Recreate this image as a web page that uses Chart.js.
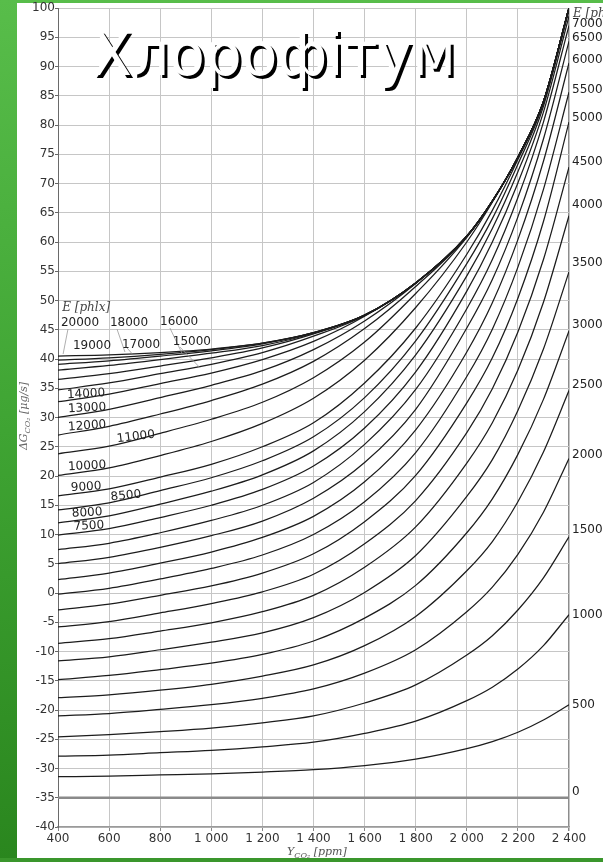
<!DOCTYPE html>
<html>
<head>
<meta charset="utf-8">
<script src="https://cdn.jsdelivr.net/npm/chart.js@4.4.1/dist/chart.umd.min.js"></script>
<style>
  html, body { margin: 0; padding: 0; overflow: hidden; background: #fff; }
  #wrap { position: relative; width: 603px; height: 862px; }
</style>
</head>
<body>
<div id="wrap"><canvas id="c" width="603" height="862"></canvas></div>
<script>
// CO2 concentration (ppm) where the curves were read
const co2 = [400, 600, 800, 1000, 1200, 1400, 1600, 1800, 2000, 2100, 2200, 2300, 2400];

// light levels E [phlx], one curve each
const eLevels = [0, 500, 1000, 1500, 2000, 2500, 3000, 3500, 4000, 4500, 5000, 5500, 6000, 6500,
  7000, 7500, 8000, 8500, 9000, 10000, 11000, 12000, 13000, 14000, 15000, 16000, 17000, 18000, 19000, 20000];

// ΔG CO2 [µg/s]
const g0     = [-35, -35, -35, -35, -35, -35, -35, -35, -35, -35, -35, -35, -35];
const g500   = [-31.4, -31.3, -31.1, -30.9, -30.6, -30.2, -29.5, -28.4, -26.6, -25.4, -23.8, -21.7, -19.1];
const g1000  = [-27.9, -27.7, -27.3, -26.9, -26.3, -25.5, -24.0, -21.9, -18.4, -16.1, -13.0, -9.0, -3.7];
const g1500  = [-24.6, -24.2, -23.7, -23.1, -22.2, -21.0, -18.8, -15.7, -10.6, -7.3, -2.9, 2.6, 9.6];
const g2000  = [-21.0, -20.6, -19.9, -19.1, -18.0, -16.4, -13.7, -9.7, -3.2, 1.0, 6.6, 13.8, 23.0];
const g2500  = [-17.9, -17.4, -16.6, -15.6, -14.2, -12.3, -9.0, -4.0, 3.8, 8.8, 15.6, 24.1, 34.6];
const g3000  = [-14.8, -14.1, -13.1, -12.0, -10.5, -8.2, -4.3, 1.3, 10.3, 16.1, 23.7, 33.1, 44.8];
const g3500  = [-11.6, -10.9, -9.7, -8.4, -6.8, -4.2, 0.1, 6.4, 16.5, 22.8, 31.2, 41.7, 54.9];
const g4000  = [-8.6, -7.8, -6.5, -5.1, -3.2, -0.4, 4.4, 11.3, 22.2, 29.1, 38.1, 49.7, 64.5];
const g4500  = [-5.8, -4.9, -3.4, -1.8, 0.2, 3.2, 8.4, 15.8, 27.4, 34.9, 44.6, 57.0, 72.8];
const g5000  = [-2.9, -1.9, -0.4, 1.2, 3.4, 6.7, 12.2, 20.1, 32.5, 40.2, 50.4, 63.5, 80.5];
const g5500  = [-0.2, 0.8, 2.4, 4.2, 6.5, 10.0, 15.6, 24.0, 37.0, 45.1, 55.7, 69.0, 85.6];
const g6000  = [2.3, 3.4, 5.1, 7.0, 9.5, 13.1, 19.0, 27.9, 41.2, 49.6, 60.4, 73.8, 90.6];
const g6500  = [5.0, 6.1, 7.8, 9.8, 12.3, 16.2, 22.3, 31.4, 45.3, 53.6, 64.3, 77.6, 94.3];
const g7000  = [7.4, 8.5, 10.3, 12.4, 15.0, 18.9, 25.4, 34.8, 48.6, 57.0, 67.6, 80.5, 97.0];
const g7500  = [9.9, 11.0, 12.9, 15.0, 17.7, 21.7, 28.2, 37.8, 51.6, 60.0, 70.1, 82.2, 98.6];
const g8000  = [12.0, 13.2, 15.2, 17.4, 20.2, 24.3, 31.0, 40.7, 54.2, 62.3, 72.0, 83.2, 99.6];
const g8500  = [14.2, 15.4, 17.5, 19.7, 22.6, 26.7, 33.4, 43.1, 56.3, 64.0, 73.3, 83.7, 100];
const g9000  = [16.6, 17.8, 19.8, 22.0, 25.0, 29.1, 35.9, 45.3, 57.9, 65.4, 74.1, 83.9, 100];
const g10000 = [20.1, 21.4, 23.5, 25.9, 29.0, 33.3, 39.8, 48.8, 60.0, 66.8, 74.5, 84.0, 100];
const g11000 = [23.8, 25.1, 27.3, 29.7, 32.6, 36.8, 42.9, 51.2, 60.8, 67.0, 74.5, 84.0, 100];
const g12000 = [27.0, 28.5, 30.6, 32.9, 35.7, 39.6, 45.2, 52.4, 60.9, 67.0, 74.5, 84.0, 100];
const g13000 = [30.0, 31.4, 33.4, 35.5, 38.0, 41.6, 46.5, 52.9, 61.0, 67.0, 74.5, 84.0, 100];
const g14000 = [32.7, 34.0, 35.8, 37.6, 39.9, 43.0, 47.3, 53.0, 61.0, 67.0, 74.5, 84.0, 100];
const g15000 = [34.7, 35.9, 37.5, 39.1, 41.1, 43.9, 47.4, 53.0, 61.0, 67.0, 74.5, 84.0, 100];
const g16000 = [36.5, 37.5, 38.8, 40.2, 41.9, 44.3, 47.5, 53.0, 61.0, 67.0, 74.5, 84.0, 100];
const g17000 = [38.1, 38.9, 39.9, 41.0, 42.3, 44.4, 47.5, 53.0, 61.0, 67.0, 74.5, 84.0, 100];
const g18000 = [39.1, 39.7, 40.5, 41.4, 42.6, 44.5, 47.5, 53.0, 61.0, 67.0, 74.5, 84.0, 100];
const g19000 = [39.8, 40.2, 40.8, 41.6, 42.7, 44.5, 47.5, 53.0, 61.0, 67.0, 74.5, 84.0, 100];
const g20000 = [40.5, 40.7, 41.1, 41.7, 42.7, 44.5, 47.5, 53.0, 61.0, 67.0, 74.5, 84.0, 100];

const curves = [g0, g500, g1000, g1500, g2000, g2500, g3000, g3500, g4000, g4500, g5000, g5500, g6000,
  g6500, g7000, g7500, g8000, g8500, g9000, g10000, g11000, g12000, g13000, g14000, g15000, g16000,
  g17000, g18000, g19000, g20000];

// axis ticks
const xTicks = [400, 600, 800, 1000, 1200, 1400, 1600, 1800, 2000, 2200, 2400];
const xTickLabels = ['400', '600', '800', '1 000', '1 200', '1 400', '1 600', '1 800', '2 000', '2 200', '2 400'];

// curve labels at the right edge (text, y)
const rightLabels = ['7000', '6500', '6000', '5500', '5000', '4500', '4000', '3500', '3000', '2500', '2000', '1500', '1000', '500', '0'];
const rightLabelY = [97.3, 94.9, 91.1, 86.0, 81.2, 73.7, 66.3, 56.4, 45.8, 35.6, 23.6, 10.8, -3.8, -19.1, -34.0];

// curve labels on the left (text, x, y, angle)
const leftLabels = ['20000', '18000', '16000', '19000', '17000', '15000', '14000', '13000', '12000', '11000', '10000', '9000', '8500', '8000', '7500'];
const leftLabelX = [486, 678, 874, 533, 725, 924, 510, 514, 514, 705, 514, 510, 666, 514, 521];
const leftLabelY = [46.15, 46.15, 46.3, 42.2, 42.4, 42.9, 34.0, 31.6, 28.55, 26.7, 21.7, 18.1, 16.6, 13.7, 11.45];
const leftLabelRot = [0, 0, 0, 0, 0, 0, -3, -3, -4, -7, -3, -3, -6, -3, -3];

// thin leader lines from the top labels down to their curves
const leaders = [
  [439, 45.1, 420, 40.85],
  [631, 45.1, 662, 41.2],
  [838, 45.3, 885, 41.0],
  [670, 41.9, 690, 40.9],
  [877, 42.05, 956, 38.5]
];

const TITLE = 'Хлорофітум';

function drawRuns(c, parts, x, y) {
  for (const p of parts) {
    c.font = p[1];
    c.fillText(p[0], x, y + p[2]);
    x += c.measureText(p[0]).width;
  }
  return x;
}
function runsWidth(c, parts) {
  let w = 0;
  for (const p of parts) { c.font = p[1]; w += c.measureText(p[0]).width; }
  return w;
}

const bgPlugin = {
  id: 'bg',
  beforeDraw(chart) {
    const c = chart.ctx, W = chart.width, H = chart.height;
    c.save();
    const g = c.createLinearGradient(0, 0, 0, H);
    g.addColorStop(0, '#58bd4a');
    g.addColorStop(0.5, '#3fa433');
    g.addColorStop(1, '#2a861e');
    c.fillStyle = g;
    c.fillRect(0, 0, W, H);
    c.fillStyle = '#ffffff';
    c.fillRect(17, 3, W - 17, 855);
    c.restore();
  }
};

const textPlugin = {
  id: 'texts',
  afterDraw(chart) {
    const c = chart.ctx, xs = chart.scales.x, ys = chart.scales.y, a = chart.chartArea;
    c.save();

    // leader lines
    c.strokeStyle = '#9a9a9a';
    c.lineWidth = 0.8;
    for (const l of leaders) {
      c.beginPath();
      c.moveTo(xs.getPixelForValue(l[0]), ys.getPixelForValue(l[1]));
      c.lineTo(xs.getPixelForValue(l[2]), ys.getPixelForValue(l[3]));
      c.stroke();
    }

    // left curve labels
    c.fillStyle = '#222';
    c.textAlign = 'center';
    c.textBaseline = 'middle';
    c.font = '12px "DejaVu Sans"';
    leftLabels.forEach((t, i) => {
      c.save();
      c.translate(xs.getPixelForValue(leftLabelX[i]), ys.getPixelForValue(leftLabelY[i]));
      c.rotate(leftLabelRot[i] * Math.PI / 180);
      c.fillText(t, 0, 0);
      c.restore();
    });

    // left header
    c.font = 'italic 12px "DejaVu Serif"';
    c.fillStyle = '#444';
    c.fillText('E [phlx]', xs.getPixelForValue(510), ys.getPixelForValue(48.7));

    // right labels
    c.textAlign = 'left';
    c.font = '12px "DejaVu Sans"';
    c.fillStyle = '#222';
    rightLabels.forEach((t, i) => c.fillText(t, a.right + 3, ys.getPixelForValue(rightLabelY[i])));
    c.font = 'italic 12px "DejaVu Serif"';
    c.fillStyle = '#444';
    c.fillText('E [phlx]', a.right + 4, ys.getPixelForValue(99.0));

    // y axis title
    c.fillStyle = '#666';
    c.textBaseline = 'alphabetic';
    const yParts = [['ΔG', 'italic 11px "DejaVu Serif"', 0], ['CO₂', 'italic 8px "DejaVu Serif"', 3], [' [μg/s]', 'italic 11px "DejaVu Serif"', 0]];
    c.save();
    c.translate(27, 416);
    c.rotate(-Math.PI / 2);
    drawRuns(c, yParts, -runsWidth(c, yParts) / 2, 0);
    c.restore();

    // x axis title
    c.fillStyle = '#555';
    drawRuns(c, [['Y', 'italic 11px "DejaVu Serif"', 0], ['CO₂', 'italic 8px "DejaVu Serif"', 3], [' [ppm]', 'italic 11px "DejaVu Serif"', 0]], 287, 855);

    // bottom green bar
    c.fillStyle = '#3a962c';
    c.fillRect(0, 858, chart.width, 4);

    // big title with shadow
    c.font = '60px "DejaVu Sans"';
    const w = c.measureText(TITLE).width;
    const sx = 364 / w;
    c.save();
    c.translate(92, 75);
    c.scale(sx, 1);
    c.fillStyle = '#000';
    c.fillText(TITLE, 3 / sx, 3);
    c.fillStyle = '#fff';
    c.fillText(TITLE, 0, 0);
    c.restore();

    c.restore();
  }
};

const datasets = curves.map((vals, i) => ({
  label: 'E ' + eLevels[i],
  data: vals.map((v, j) => ({ x: co2[j], y: v })),
  borderColor: eLevels[i] === 0 ? '#8a8a8a' : '#1c1c1c',
  borderWidth: eLevels[i] === 0 ? 2.6 : 1.25,
  pointRadius: 0,
  fill: false,
  cubicInterpolationMode: 'monotone',
  clip: 0
}));

new Chart(document.getElementById('c'), {
  type: 'line',
  data: { datasets: datasets },
  options: {
    responsive: false,
    animation: false,
    devicePixelRatio: 1,
    layout: { padding: { top: 8, right: 34, left: 0, bottom: 0 } },
    plugins: { legend: { display: false }, tooltip: { enabled: false } },
    scales: {
      x: {
        type: 'linear',
        min: 400,
        max: 2400,
        afterFit: (s) => { s.height = 35; },
        ticks: {
          stepSize: 200,
          autoSkip: false,
          maxRotation: 0,
          padding: 1,
          color: '#333',
          font: { family: 'DejaVu Sans', size: 12 },
          callback: (v) => { const i = xTicks.indexOf(v); return i < 0 ? '' : xTickLabels[i]; }
        },
        grid: {
          color: (ctx) => (ctx.tick && ctx.tick.value === 2400 ? '#8c8c8c' : '#c6c6c6'),
          lineWidth: (ctx) => (ctx.tick && ctx.tick.value === 2400 ? 1.5 : 1),
          tickLength: 4,
          tickColor: '#888'
        },
        border: { color: '#9a9a9a', width: 1.5 }
      },
      y: {
        min: -40,
        max: 100,
        afterFit: (s) => { s.width = 58; },
        ticks: {
          stepSize: 5,
          autoSkip: false,
          padding: 0,
          color: '#333',
          font: { family: 'DejaVu Sans', size: 12 }
        },
        grid: { color: '#c6c6c6', lineWidth: 1, tickLength: 3, tickColor: '#666' },
        border: { color: '#6a6a6a', width: 1 }
      }
    }
  },
  plugins: [bgPlugin, textPlugin]
});
</script>
</body>
</html>
